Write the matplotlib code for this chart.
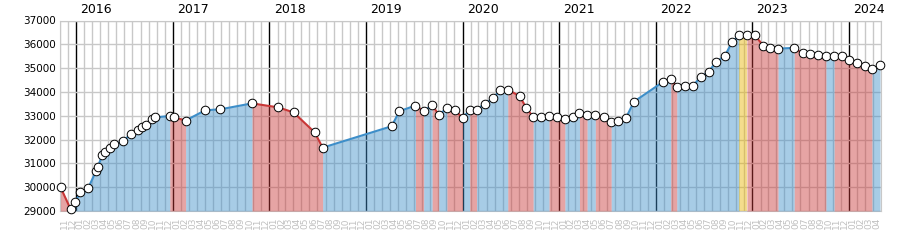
import numpy as np
import matplotlib
matplotlib.use("Agg")
import matplotlib.pyplot as plt
import matplotlib.dates as mdates

dates = [
    "2015-11-03", "2015-12-11", "2015-12-29", "2016-01-17", "2016-02-15",
    "2016-03-17", "2016-03-23", "2016-04-09", "2016-04-21", "2016-05-07",
    "2016-05-25", "2016-06-26", "2016-07-25", "2016-08-22", "2016-09-07",
    "2016-09-20", "2016-10-12", "2016-10-24", "2016-12-20", "2017-01-06",
    "2017-02-18", "2017-05-03", "2017-06-29", "2017-10-27", "2018-02-04",
    "2018-04-02", "2018-06-21", "2018-07-21", "2019-04-08", "2019-05-07",
    "2019-07-07", "2019-08-07", "2019-09-08", "2019-10-03", "2019-11-03",
    "2019-12-02", "2020-01-01", "2020-01-28", "2020-02-23", "2020-03-24",
    "2020-04-25", "2020-05-23", "2020-06-20", "2020-08-04", "2020-08-29",
    "2020-09-24", "2020-10-24", "2020-11-23", "2020-12-24", "2021-01-22",
    "2021-02-21", "2021-03-18", "2021-04-16", "2021-05-17", "2021-06-17",
    "2021-07-16", "2021-08-11", "2021-09-09", "2021-10-10", "2022-01-29",
    "2022-02-26", "2022-03-21", "2022-04-22", "2022-05-20", "2022-06-19",
    "2022-07-19", "2022-08-18", "2022-09-18", "2022-10-17", "2022-11-12",
    "2022-12-11", "2023-01-10", "2023-02-11", "2023-03-10", "2023-04-08",
    "2023-06-08", "2023-07-10", "2023-08-08", "2023-09-06", "2023-10-06",
    "2023-11-06", "2023-12-05", "2024-01-01", "2024-01-31", "2024-03-01",
    "2024-03-28", "2024-04-27",
]
values = [
    30000, 29080, 29390, 29780, 29950,
    30690, 30860, 31350, 31490, 31630,
    31800, 31940, 32220, 32400, 32510,
    32610, 32860, 32930, 32990, 32930,
    32800, 33230, 33270, 33520, 33350,
    33140, 32300, 31660, 32560, 33190,
    33430, 33200, 33440, 33050, 33310,
    33260, 32900, 33260, 33250, 33500,
    33740, 34080, 34100, 33820, 33330,
    32950, 32960, 32970, 32940, 32880,
    32960, 33110, 33020, 33040, 32950,
    32750, 32780, 32890, 33590, 34430,
    34540, 34220, 34240, 34260, 34610,
    34850, 35270, 35510, 36100, 36400,
    36400, 36380, 35940, 35850, 35820,
    35850, 35620, 35580, 35570, 35490,
    35520, 35500, 35330, 35200, 35100,
    34960, 35120,
]

x = mdates.datestr2num(dates)
y = np.array(values, dtype=float)
ymin, ymax = 29000, 37000

line_col = {1: "#3d8ec9", -1: "#c83737", 0: "#e8b400"}

month_edges = mdates.date2num(
    np.arange("2015-11", "2024-06", dtype="datetime64[M]").astype("datetime64[D]"))
month_num = (np.arange(len(month_edges)) + 10) % 12 + 1

fig = plt.figure(figsize=(9, 2.5), dpi=100)
ax = fig.add_axes([60 / 900, 39 / 250, 821 / 900, 190.5 / 250])

# grid: month lines, black year lines, horizontal lines
ax.vlines(month_edges[month_num != 1], ymin, ymax, color="#c8c8c8", lw=1, zorder=0)
ax.vlines(month_edges[month_num == 1], ymin, ymax, color="black", lw=1, zorder=0)
ax.hlines(np.arange(ymin, ymax + 1, 1000), month_edges[0], month_edges[-1],
          color="#c8c8c8", lw=1, zorder=0)

# colour each run by direction: up blue, down red, flat yellow
direction = np.sign(np.diff(y)).astype(int)
i = 0
while i < len(direction):
    j = i
    while j + 1 < len(direction) and direction[j + 1] == direction[i]:
        j += 1
    xs, ys = x[i:j + 2], y[i:j + 2]
    c = line_col[direction[i]]
    ax.fill_between(xs, ys, ymin, color=c, alpha=0.45, lw=0, zorder=1)
    ax.plot(xs, ys, color=c, lw=1.5, zorder=2, solid_capstyle="butt")
    i = j + 1

ax.plot(x, y, ls="none", marker="o", ms=6.2, mfc="white", mec="black",
        mew=0.7, zorder=3, clip_on=False)

ax.set_xlim(month_edges[0], month_edges[-1])
ax.set_ylim(ymin, ymax)

centers = (month_edges[:-1] + month_edges[1:]) / 2
ax.set_xticks(centers, ["%02d" % m for m in month_num[:-1]], rotation=90,
              fontsize=6.5, color="#c0c0c0")
ax.tick_params(axis="x", length=0, pad=5)
ax.set_yticks(np.arange(ymin, ymax + 1, 1000))
ax.tick_params(axis="y", length=0, pad=3, labelsize=7.5)

for e, m in zip(month_edges, month_num):
    if m == 1:
        yr = mdates.num2date(e).year
        ax.annotate(str(yr), (e, 1), xycoords=("data", "axes fraction"),
                    xytext=(3, 3), textcoords="offset points",
                    fontsize=9, va="bottom", ha="left")

for s in ax.spines.values():
    s.set_color("#c8c8c8")
    s.set_zorder(0)

fig.savefig("out.png", dpi=100)
